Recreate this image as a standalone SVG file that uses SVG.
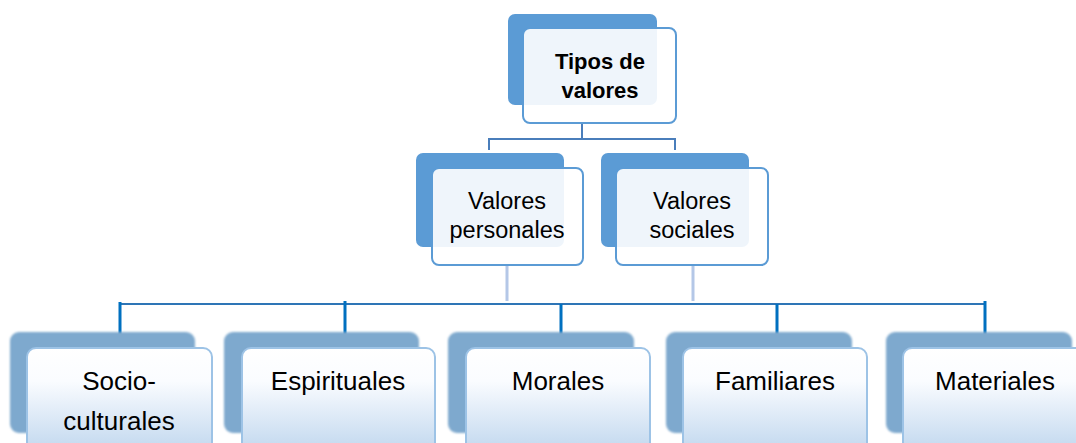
<svg xmlns="http://www.w3.org/2000/svg" width="1076" height="443" viewBox="0 0 1076 443">
<defs>
<linearGradient id="g" x1="0" y1="0" x2="0" y2="1">
<stop offset="0" stop-color="#ffffff"/>
<stop offset="0.3" stop-color="#fafcff"/>
<stop offset="1" stop-color="#bcd4ed"/>
</linearGradient>
<filter id="soft" x="-5%" y="-5%" width="110%" height="110%">
<feGaussianBlur stdDeviation="1"/>
</filter>
</defs>
<style>
.bk1{fill:#5b9bd5}
.fr1{fill:#ffffff;fill-opacity:0.9;stroke:#5b9bd5;stroke-width:2}
.bk2{fill:#7ea9ce;filter:url(#soft)}
.fr2{fill:url(#g);stroke:#9dc3e6;stroke-width:2}
.t{font-family:"Liberation Sans",Arial,sans-serif;fill:#000;text-anchor:middle}
.tb{font-size:22px;font-weight:bold}
.tm{font-size:23.5px}
.ts{font-size:26px}
.c1{fill:none;stroke:#4a7ebb;stroke-width:2}
.c2{fill:none;stroke:#b4c7e7;stroke-width:3}
.c3{fill:none;stroke:#2e75b6;stroke-width:2}
.c4{fill:none;stroke:#0070c0;stroke-width:3}
</style>
<g id="connectors">
<path class="c1" d="M582 123 V139 M489 150 V139 H675 V150"/>
<path class="c2" d="M507 265 V301 M693 265 V301"/>
<path class="c3" d="M120 304 H985"/>
<path class="c4" d="M120 302 V340 M345 301 V339 M561 304 V343 M777 304 V342 M985 301 V338"/>
</g>
<g id="n-tipos">
<rect class="bk1" x="508" y="14" width="149" height="91" rx="7"/>
<rect class="fr1" x="523" y="28" width="153" height="95" rx="7"/>
<text class="t tb" x="600" y="69">Tipos de</text>
<text class="t tb" x="600" y="98">valores</text>
</g>
<g id="n-personales">
<rect class="bk1" x="416" y="153" width="148" height="94" rx="7"/>
<rect class="fr1" x="432" y="168" width="151" height="97" rx="7"/>
<text class="t tm" x="507" y="209">Valores</text>
<text class="t tm" x="507" y="238">personales</text>
</g>
<g id="n-sociales">
<rect class="bk1" x="601" y="153" width="148" height="94" rx="7"/>
<rect class="fr1" x="616" y="168" width="152" height="97" rx="7"/>
<text class="t tm" x="692" y="209">Valores</text>
<text class="t tm" x="692" y="238">sociales</text>
</g>
<g id="n-socioculturales">
<rect class="bk2" x="10" y="332" width="185" height="101" rx="9"/>
<rect class="fr2" x="27" y="348" width="185" height="110" rx="9"/>
<text class="t ts" x="119" y="390">Socio-</text>
<text class="t ts" x="119" y="430">culturales</text>
</g>
<g id="n-espirituales">
<rect class="bk2" x="224" y="332" width="195" height="101" rx="9"/>
<rect class="fr2" x="242" y="348" width="193" height="110" rx="9"/>
<text class="t ts" x="338" y="390">Espirituales</text>
</g>
<g id="n-morales">
<rect class="bk2" x="448" y="332" width="186" height="101" rx="9"/>
<rect class="fr2" x="466" y="348" width="184" height="110" rx="9"/>
<text class="t ts" x="558" y="390">Morales</text>
</g>
<g id="n-familiares">
<rect class="bk2" x="666" y="332" width="186" height="101" rx="9"/>
<rect class="fr2" x="683" y="348" width="184" height="110" rx="9"/>
<text class="t ts" x="775" y="390">Familiares</text>
</g>
<g id="n-materiales">
<rect class="bk2" x="886" y="332" width="186" height="101" rx="9"/>
<rect class="fr2" x="903" y="348" width="185" height="110" rx="9"/>
<text class="t ts" x="995" y="390">Materiales</text>
</g>
</svg>
